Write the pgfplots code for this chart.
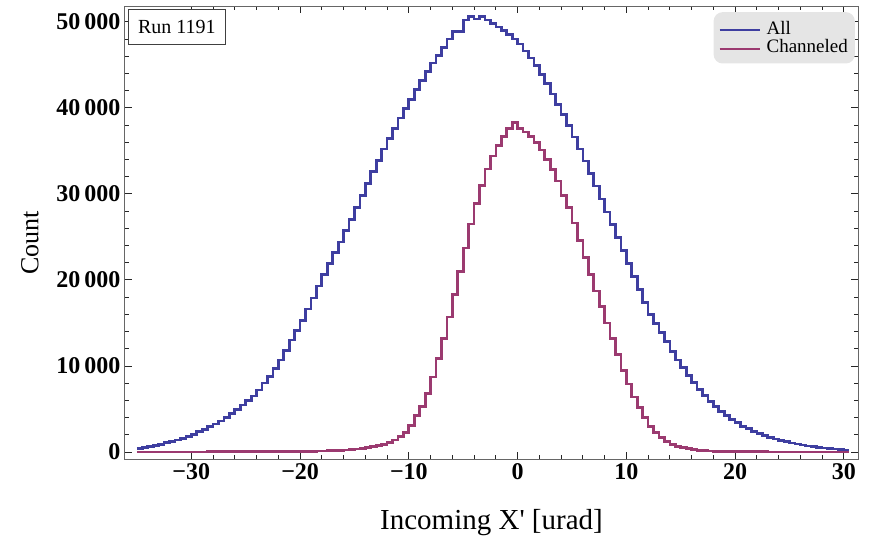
\documentclass[border=0pt]{standalone}
\usepackage{pgfplots}
\pgfplotsset{compat=1.18}
\usepackage{pgfplotstable}
\usepackage{fontspec}
\setmainfont{Liberation Serif}
\definecolor{mblue}{RGB}{62,62,160}
\definecolor{mmag}{RGB}{155,58,112}

\pgfplotstableread{
x y
-35.0 400
-34.5 500
-34.0 600
-33.5 750
-33.0 900
-32.5 1080
-32.0 1230
-31.5 1400
-31.0 1600
-30.5 1800
-30.0 2050
-29.5 2350
-29.0 2650
-28.5 2950
-28.0 3250
-27.5 3600
-27.0 4000
-26.5 4450
-26.0 4950
-25.5 5450
-25.0 5950
-24.5 6500
-24.0 7200
-23.5 8000
-23.0 8800
-22.5 9700
-22.0 10700
-21.5 11800
-21.0 13000
-20.5 14100
-20.0 15300
-19.5 16600
-19.0 17900
-18.5 19300
-18.0 20600
-17.5 21900
-17.0 23200
-16.5 24400
-16.0 25700
-15.5 27000
-15.0 28400
-14.5 29800
-14.0 31200
-13.5 32600
-13.0 33900
-12.5 35200
-12.0 36400
-11.5 37600
-11.0 38800
-10.5 39900
-10.0 41000
-9.5 42100
-9.0 43200
-8.5 44200
-8.0 45200
-7.5 46100
-7.0 47000
-6.5 48000
-6.0 48900
-5.5 48900
-5.0 50200
-4.5 50600
-4.0 50300
-3.5 50600
-3.0 50200
-2.5 49800
-2.0 49400
-1.5 49000
-1.0 48500
-0.5 48000
0.0 47400
0.5 46600
1.0 45800
1.5 44900
2.0 43900
2.5 42800
3.0 41600
3.5 40400
4.0 39200
4.5 37900
5.0 36600
5.5 35200
6.0 33800
6.5 32400
7.0 30900
7.5 29400
8.0 27900
8.5 26400
9.0 24900
9.5 23400
10.0 21900
10.5 20400
11.0 18900
11.5 17400
12.0 16000
12.5 14900
13.0 13900
13.5 12800
14.0 11700
14.5 10700
15.0 9800
15.5 8900
16.0 8100
16.5 7300
17.0 6600
17.5 5900
18.0 5300
18.5 4700
19.0 4200
19.5 3800
20.0 3400
20.5 3000
21.0 2700
21.5 2400
22.0 2150
22.5 1900
23.0 1700
23.5 1500
24.0 1330
24.5 1180
25.0 1050
25.5 920
26.0 800
26.5 700
27.0 610
27.5 530
28.0 460
28.5 400
29.0 340
29.5 290
30.0 240
30.5 240
}\allcounts

\pgfplotstableread{
x y
-35.0 0
-34.5 0
-34.0 0
-33.5 5
-33.0 5
-32.5 5
-32.0 10
-31.5 10
-31.0 10
-30.5 10
-30.0 15
-29.5 15
-29.0 15
-28.5 20
-28.0 20
-27.5 20
-27.0 25
-26.5 25
-26.0 30
-25.5 30
-25.0 35
-24.5 35
-24.0 40
-23.5 40
-23.0 45
-22.5 50
-22.0 55
-21.5 60
-21.0 65
-20.5 70
-20.0 75
-19.5 85
-19.0 95
-18.5 110
-18.0 125
-17.5 145
-17.0 170
-16.5 200
-16.0 240
-15.5 290
-15.0 350
-14.5 420
-14.0 500
-13.5 600
-13.0 730
-12.5 900
-12.0 1100
-11.5 1400
-11.0 1800
-10.5 2300
-10.0 3100
-9.5 4200
-9.0 5300
-8.5 6800
-8.0 8700
-7.5 10900
-7.0 13200
-6.5 15700
-6.0 18300
-5.5 21000
-5.0 23700
-4.5 26500
-4.0 28900
-3.5 31000
-3.0 32900
-2.5 34400
-2.0 35600
-1.5 36700
-1.0 37600
-0.5 38300
0.0 37600
0.5 37200
1.0 36700
1.5 36000
2.0 35100
2.5 34000
3.0 32800
3.5 31500
4.0 29800
4.5 28400
5.0 26600
5.5 24600
6.0 22600
6.5 20600
7.0 18700
7.5 16900
8.0 15000
8.5 13200
9.0 11300
9.5 9500
10.0 7900
10.5 6400
11.0 5200
11.5 4000
12.0 3000
12.5 2300
13.0 1700
13.5 1250
14.0 900
14.5 650
15.0 500
15.5 380
16.0 280
16.5 210
17.0 160
17.5 120
18.0 95
18.5 75
19.0 60
19.5 50
20.0 40
20.5 35
21.0 30
21.5 25
22.0 20
22.5 20
23.0 15
23.5 15
24.0 10
24.5 10
25.0 10
25.5 5
26.0 5
26.5 5
27.0 5
27.5 0
28.0 0
28.5 0
29.0 0
29.5 0
30.0 0
30.5 0
}\chancounts

\begin{document}
\begin{tikzpicture}
\begin{axis}[
  width=733pt, height=452.8pt, scale only axis,
  xmin=-36.1, xmax=31.3, ymin=-850, ymax=51770,
  scaled y ticks=false, scaled x ticks=false,
  axis line style={black!60, line width=1pt},
  tick style={black!85, line width=0.8pt},
  major tick length=7pt, minor tick length=4pt,
  tick align=inside,
  xtick={-30,-20,-10,0,10,20,30},
  xticklabels={−30,−20,−10,0,10,20,30},
  minor x tick num=4,
  ytick={0,10000,20000,30000,40000,50000},
  yticklabels={0,10\,000,20\,000,30\,000,40\,000,50\,000},
  minor y tick num=4,
  ticklabel style={font=\bfseries\fontsize{24}{24}\selectfont},
  xticklabel style={yshift=-1pt},
  yticklabel style={xshift=-1pt},
  xlabel={Incoming X\textquotesingle{} [urad]},
  ylabel={Count},
  xlabel style={font=\fontsize{29}{29}\selectfont, at={(axis description cs:0.5,-0.139)}, anchor=center},
  ylabel style={font=\fontsize{26}{26}\selectfont, at={(axis description cs:-0.1296,0.478)}, anchor=center},
  legend cell align=left,
  legend image code/.code={\draw[#1, line width=2pt] (0pt,-2pt) -- (40pt,-2pt);},
  legend style={at={(axis description cs:0.996,0.988)}, anchor=north east,
    fill=black!10, draw=none, rounded corners=9pt,
    font=\fontsize{19}{19}\selectfont, row sep=0pt,
    inner xsep=5pt, inner ysep=7pt,
    /tikz/every odd column/.append style={column sep=4pt}},
]
\addplot[const plot, mblue, line width=2.7pt, line join=miter] table[x=x,y=y] {\allcounts};
\addlegendentry{All}
\addplot[const plot, mmag, line width=2.7pt, line join=miter] table[x=x,y=y] {\chancounts};
\addlegendentry{Channeled}
\node[anchor=north west, draw=black!75, line width=1pt, fill=white,
  minimum width=97pt, minimum height=35pt, inner sep=0pt,
  font=\fontsize{20}{20}\selectfont] at (axis description cs:0.004,0.9945) {Run 1191};
\end{axis}
\path ([xshift=-125pt,yshift=-83.7pt]current axis.south west) rectangle ([xshift=13pt,yshift=6.5pt]current axis.north east);
\end{tikzpicture}
\end{document}
